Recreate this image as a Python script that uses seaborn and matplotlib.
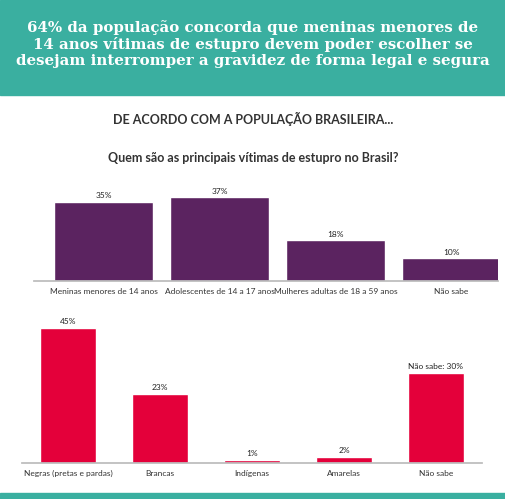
import matplotlib
matplotlib.use("Agg")
import matplotlib.pyplot as plt
import seaborn as sns
import pandas as pd

# Data
vitimas_cat = ["Meninas menores de 14 anos", "Adolescentes de 14 a 17 anos",
               "Mulheres adultas de 18 a 59 anos", "Não sabe"]
vitimas_val = [35, 37, 18, 10]

raca_cat = ["Negras (pretas e pardas)", "Brancas", "Indígenas", "Amarelas", "Não sabe"]
raca_val = [45, 23, 1, 2, 30]
raca_lbl = ["45%", "23%", "1%", "2%", "Não sabe: 30%"]

sns.set_theme(style="white")
plt.rcParams["font.family"] = ["Lato", "DejaVu Sans"]

W, H = 506, 499
fig = plt.figure(figsize=(W / 100, H / 100), dpi=100)
fig.patch.set_facecolor("white")

# header band and bottom strip
fig.patches.append(plt.Rectangle((0, 1 - 95 / H), 1, 95 / H, transform=fig.transFigure,
                                 color="#3aafa0", zorder=0))
fig.patches.append(plt.Rectangle((0, 0), 1, 6 / H, transform=fig.transFigure,
                                 color="#3aafa0", zorder=0))
fig.text(0.5, 1 - 44 / H,
         "64% da população concorda que meninas menores de\n14 anos vítimas de estupro devem poder escolher se\ndesejam interromper a gravidez de forma legal e segura",
         ha="center", va="center", color="white", fontsize=10.8, fontweight="bold",
         family="DejaVu Serif", linespacing=1.2)
fig.text(0.5, 1 - 119 / H, "DE ACORDO COM A POPULAÇÃO BRASILEIRA...", ha="center", va="center",
         color="#333333", fontsize=9, fontweight="bold")
fig.text(0.5, 1 - 158 / H, "Quem são as principais vítimas de estupro no Brasil?", ha="center",
         va="center", color="#333333", fontsize=9, fontweight="bold")


def bar_chart(ax, cats, vals, labels, color, width, ymax):
    df = pd.DataFrame({"cat": cats, "val": vals})
    sns.barplot(data=df, x="cat", y="val", color=color, width=width, ax=ax, saturation=1)
    ax.set_ylim(0, ymax)
    ax.set_xlabel("")
    ax.set_ylabel("")
    ax.set_yticks([])
    for s in ["top", "right", "left"]:
        ax.spines[s].set_visible(False)
    ax.spines["bottom"].set_color("#bbbbbb")
    ax.tick_params(axis="x", labelsize=6, colors="#333333", length=0, pad=5)
    ax.bar_label(ax.containers[0], labels=labels, fontsize=6, padding=2, color="#222222")
    ax.set_facecolor("none")


ax1 = fig.add_axes([34 / W, 1 - 281 / H, 464 / W, 96 / H])
bar_chart(ax1, vitimas_cat, vitimas_val, [f"{v}%" for v in vitimas_val], "#5b2360", 0.86, 96 / 2.26)
ax1.set_xlim(-0.6, 3.4)

ax2 = fig.add_axes([22 / W, 1 - 463 / H, 460 / W, 153 / H])
bar_chart(ax2, raca_cat, raca_val, raca_lbl, "#e4003a", 0.61, 153 / 3.0)

fig.savefig("out.png", dpi=100)
